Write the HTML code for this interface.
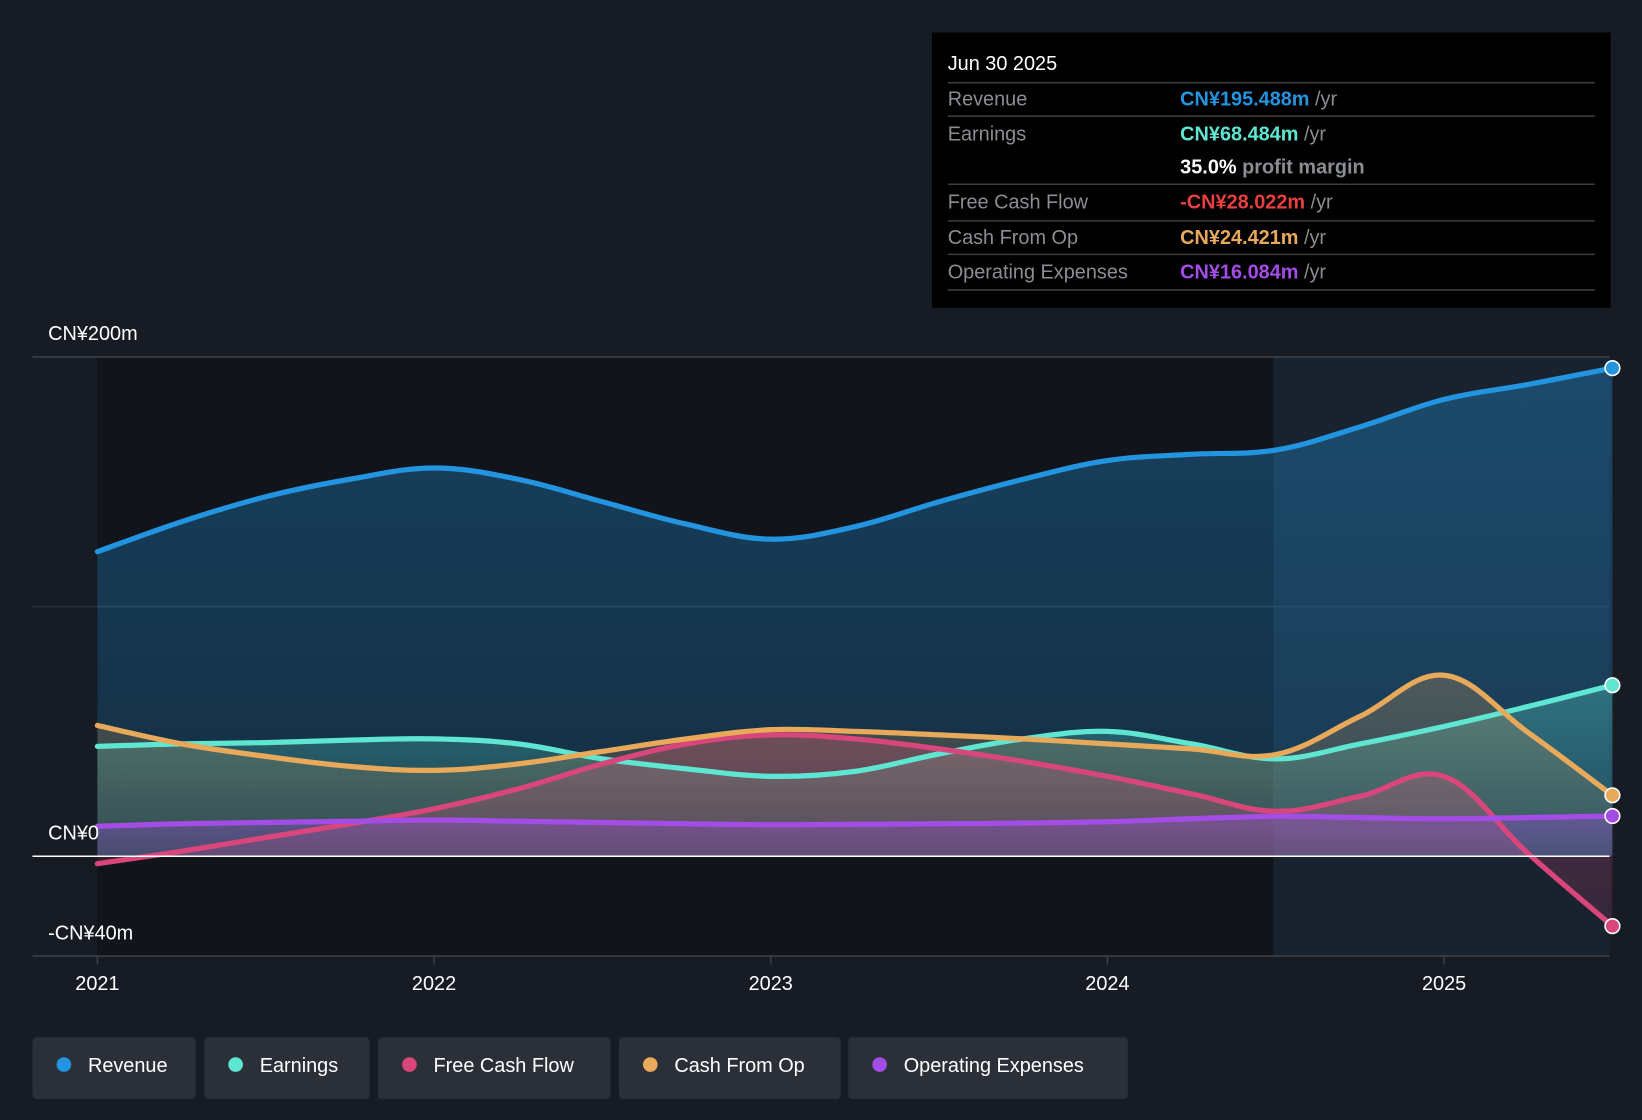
<!DOCTYPE html>
<html><head><meta charset="utf-8"><style>
html,body{margin:0;padding:0;background:#161b24;}
svg{display:block;font-family:"Liberation Sans","Noto Sans CJK SC",sans-serif;}
</style></head><body>
<svg id="chart" width="1642" height="1120" viewBox="0 0 1568 1070" preserveAspectRatio="none" xmlns="http://www.w3.org/2000/svg">
<defs>
<linearGradient id="gRev" x1="0" y1="0" x2="0" y2="1"><stop offset="0" stop-color="#2394df" stop-opacity="0.35"/><stop offset="1" stop-color="#2394df" stop-opacity="0.2"/></linearGradient>
<linearGradient id="gEarn" x1="0" y1="0" x2="0" y2="1"><stop offset="0" stop-color="#5ee6d2" stop-opacity="0.3"/><stop offset="1" stop-color="#5ee6d2" stop-opacity="0.1"/></linearGradient>
<linearGradient id="gFcf" x1="0" y1="0" x2="0" y2="1"><stop offset="0" stop-color="#d9467c" stop-opacity="0.3"/><stop offset="1" stop-color="#d9467c" stop-opacity="0.15"/></linearGradient>
<linearGradient id="gCfo" x1="0" y1="0" x2="0" y2="1"><stop offset="0" stop-color="#e8a95a" stop-opacity="0.25"/><stop offset="1" stop-color="#e8a95a" stop-opacity="0.1"/></linearGradient>
<linearGradient id="gOpex" x1="0" y1="0" x2="0" y2="1"><stop offset="0" stop-color="#a34de6" stop-opacity="0.35"/><stop offset="1" stop-color="#a34de6" stop-opacity="0.2"/></linearGradient>
</defs>
<rect x="0" y="0" width="1568" height="1070" fill="#161b24"/>
<rect x="93" y="341" width="1123" height="572" fill="#111419" opacity="0.9"/>
<rect x="1216" y="341" width="321" height="572" fill="#1a2634" opacity="0.7"/>
<g id="grid"></g>
<g id="fills"></g>
<g id="lines"></g>
<g id="axis"></g>
<g>
<rect x="890" y="31" width="648" height="263" fill="#000"/>
<text x="905" y="67" fill="#fff" font-size="19">Jun 30 2025</text>
<line x1="905" y1="79" x2="1523" y2="79" stroke="#3a3d42" stroke-width="1.5"/>
<text x="905" y="101" fill="#8a8d92" font-size="19">Revenue</text>
<text x="1127" y="101" font-size="19" font-weight="bold" fill="#2394df">CN¥195.488m <tspan fill="#8a8d92" font-weight="normal">/yr</tspan></text>
<line x1="905" y1="111" x2="1523" y2="111" stroke="#3a3d42" stroke-width="1.5"/>
<text x="905" y="134" fill="#8a8d92" font-size="19">Earnings</text>
<text x="1127" y="134" font-size="19" font-weight="bold" fill="#5ee6d2">CN¥68.484m <tspan fill="#8a8d92" font-weight="normal">/yr</tspan></text>
<text x="1127" y="166" font-size="19" font-weight="bold" fill="#fff">35.0% <tspan fill="#8a8d92">profit margin</tspan></text>
<line x1="905" y1="176" x2="1523" y2="176" stroke="#3a3d42" stroke-width="1.5"/>
<text x="905" y="199" fill="#8a8d92" font-size="19">Free Cash Flow</text>
<text x="1127" y="199" font-size="19" font-weight="bold" fill="#e8403f">-CN¥28.022m <tspan fill="#8a8d92" font-weight="normal">/yr</tspan></text>
<line x1="905" y1="211" x2="1523" y2="211" stroke="#3a3d42" stroke-width="1.5"/>
<text x="905" y="233" fill="#8a8d92" font-size="19">Cash From Op</text>
<text x="1127" y="233" font-size="19" font-weight="bold" fill="#e8a95a">CN¥24.421m <tspan fill="#8a8d92" font-weight="normal">/yr</tspan></text>
<line x1="905" y1="243" x2="1523" y2="243" stroke="#3a3d42" stroke-width="1.5"/>
<text x="905" y="266" fill="#8a8d92" font-size="19">Operating Expenses</text>
<text x="1127" y="266" font-size="19" font-weight="bold" fill="#a34de6">CN¥16.084m <tspan fill="#8a8d92" font-weight="normal">/yr</tspan></text>
<line x1="905" y1="277" x2="1523" y2="277" stroke="#3a3d42" stroke-width="1.5"/>
</g>
<g id="legend"></g>
</svg>
<script>
const years = [2021,2021.25,2021.5,2021.75,2022,2022.25,2022.5,2022.75,2023,2023.25,2023.5,2023.75,2024,2024.25,2024.5,2024.75,2025,2025.25,2025.5];
const revenue = [122,134,144,151,155.5,151,142,133,127,132,142,151,158.5,161,162.7,172,183,189,195.5];
const earnings = [44,45,45.5,46.5,47,45,39,35,32,34,41,47,50,45,39,45,52,60,68.5];
const freeCashFlow = [-3,2,7.5,13,19,27,37,45,48.6,47,43,38,32,25,18,24,32,1,-28];
const cashFromOp = [52.4,45,40,36,34.4,37,42,47,50.7,50,48.6,47,45,43,40.7,56,72.5,49.5,24.4];
const opex = [12,13,13.5,14,14.5,14,13.5,13,12.6,12.8,13,13.3,13.8,15,16,15.5,15,15.5,16.1];
const yTicks = [200,100,0,-40];
const yTickLabels = ["CN¥200m","","CN¥0","-CN¥40m"];
const xTicks = [2021,2022,2023,2024,2025];
const legendNames = ["Revenue","Earnings","Free Cash Flow","Cash From Op","Operating Expenses"];

const NS="http://www.w3.org/2000/svg";
function X(v){return 93+(v-2021)*321.5;}
function Y(v){return 818-v*2.385;}
function mk(tag,attrs,parent){const e=document.createElementNS(NS,tag);for(const k in attrs)e.setAttribute(k,attrs[k]);parent.appendChild(e);return e;}
function pathD(vals){
  const p=vals.map((v,i)=>[X(years[i]),Y(v)]);
  let d="M"+p[0][0]+","+p[0][1];
  for(let i=0;i<p.length-1;i++){
    const p0=p[i-1]||p[i],p1=p[i],p2=p[i+1],p3=p[i+2]||p2;
    const t=0.18;
    d+=" C"+(p1[0]+(p2[0]-p0[0])*t)+","+(p1[1]+(p2[1]-p0[1])*t)+" "+(p2[0]-(p3[0]-p1[0])*t)+","+(p2[1]-(p3[1]-p1[1])*t)+" "+p2[0]+","+p2[1];
  }
  return d;
}
const grid=document.getElementById('grid'),fills=document.getElementById('fills'),lines=document.getElementById('lines'),axis=document.getElementById('axis'),legend=document.getElementById('legend');
yTicks.forEach((t,i)=>{
  if(t!==0&&t!==-40){const l=mk('line',{x1:31,x2:1537,y1:Y(t),y2:Y(t),stroke:t===200?'#3a4049':'#2a303a','stroke-width':1.5},grid);
  
  }
  if(yTickLabels[i]){const tx=mk('text',{x:46,y:Y(t)-16,fill:'#fff','font-size':19},axis);tx.textContent=yTickLabels[i];
  
  }
});
const series=[[revenue,'#2394df','gRev','revenue'],[earnings,'#5ee6d2','gEarn','earnings'],[freeCashFlow,'#d9467c','gFcf','free-cash-flow'],[cashFromOp,'#e8a95a','gCfo','cash-from-op'],[opex,'#a34de6','gOpex','operating-expenses']];
series.forEach(s=>{
  const d=pathD(s[0]);
  const f=mk('path',{d:d+" L"+X(years[years.length-1])+","+Y(0)+" L"+X(years[0])+","+Y(0)+" Z",fill:'url(#'+s[2]+')'},fills);
  
  
});
series.forEach(s=>{
  const l=mk('path',{d:pathD(s[0]),fill:'none',stroke:s[1],'stroke-width':5,'stroke-linecap':'round'},lines);
  
  
  const last=s[0][s[0].length-1];
  const c=mk('circle',{cx:X(years[years.length-1]),cy:Y(last),r:7,fill:s[1],stroke:'#fff','stroke-width':1.5},lines);
  
  
});
const zl=mk('line',{x1:31,x2:1537,y1:Y(0),y2:Y(0),stroke:'#fff','stroke-width':1.5},axis);


const bl=mk('line',{x1:31,x2:1537,y1:Y(-40),y2:Y(-40),stroke:'#3a4049','stroke-width':1.5},axis);


xTicks.forEach(t=>{
  const tk=mk('line',{x1:X(t),x2:X(t),y1:Y(-40),y2:Y(-40)+8,stroke:'#3a4049','stroke-width':1.5},axis);
  
  
  const tx=mk('text',{x:X(t),y:946,fill:'#fff','font-size':19,'text-anchor':'middle'},axis);tx.textContent=String(t);
  
  
});
const legX=[31,195,361,591,810],legW=[156,158,222,212,267];
legendNames.forEach((n,i)=>{
  const g=mk('g',{},legend);
  
  
  mk('rect',{x:legX[i],y:991,width:legW[i],height:59,rx:4,fill:'#2a2f38'},g);
  mk('circle',{cx:legX[i]+30,cy:1017,r:7,fill:series[i][1]},g);
  const t=mk('text',{x:legX[i]+53,y:1024,fill:'#fff','font-size':19},g);t.textContent=n;
});
</script>
</body></html>
